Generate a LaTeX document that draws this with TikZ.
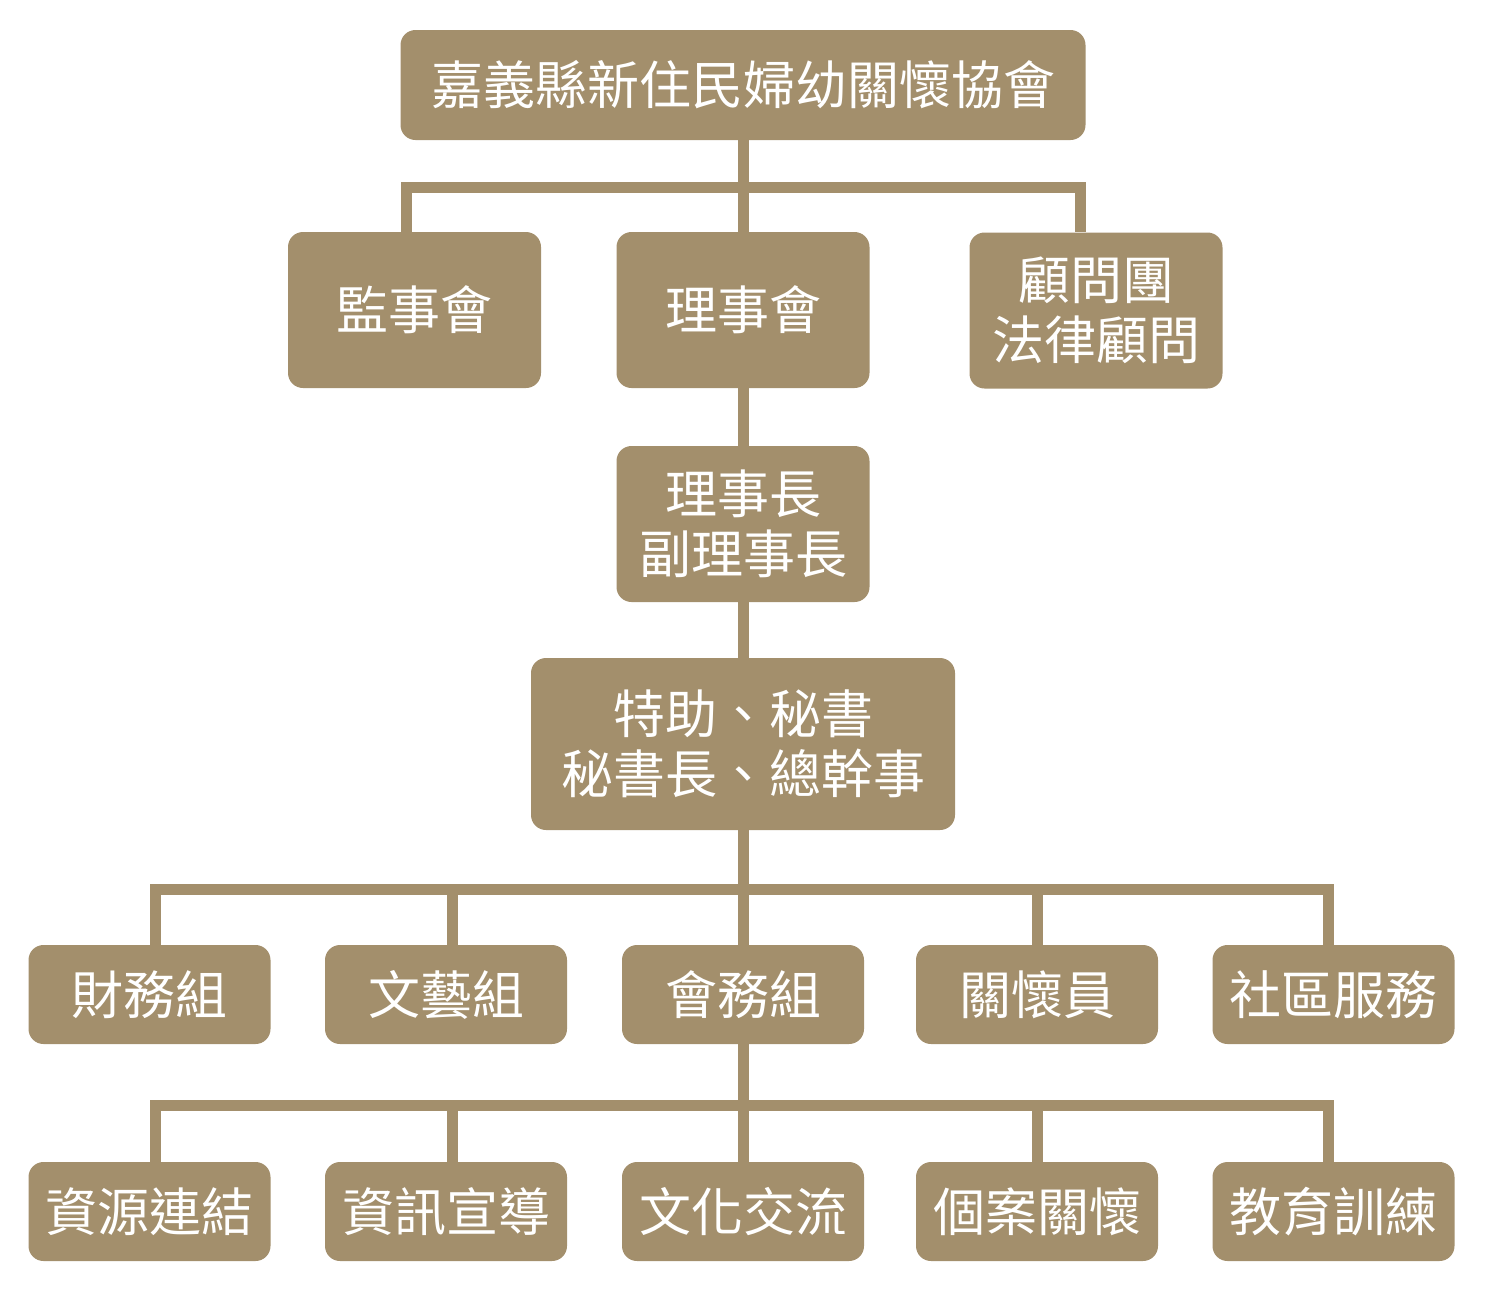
\documentclass[tikz,border=0pt]{standalone}
\usepackage{fontspec}
\setmainfont{Noto Sans CJK TC}
\usepackage{tikz}
\usetikzlibrary{calc,positioning}
\definecolor{khaki}{HTML}{A38F6C}
\tikzset{org box/.style={fill=khaki,text=white,rounded corners=7.5pt,inner sep=0pt,align=center,font=\fontsize{26}{30}\selectfont},
	wide box/.style={org box,minimum width=126.5pt,minimum height=78pt},
	unit box/.style={org box,minimum width=121pt,minimum height=49.5pt},
	org link/.style={draw=khaki,line width=5.5pt}}

\begin{document}
\begin{tikzpicture}[x=0.5pt,y=-0.5pt]
	
	\useasboundingbox (0,0) rectangle (1488,1292);
	
	\node[org box,minimum width=342.5pt,minimum height=55pt,font=\fontsize{26}{30}\selectfont] (assoc) at (743,85) {嘉義縣新住民婦幼關懷協會};
	
	\node[wide box] (super) at (414.5,310) {監事會};
	\node[wide box] (board) at (743,310) {理事會};
	\node[wide box] (advisor) at (1096,310.5) {顧問團\\法律顧問};
	
	\node[wide box] (chair) at (743,524) {理事長\\副理事長};
	\node[org box,minimum width=212pt,minimum height=86pt] (secr) at (743,744) {特助、秘書\\秘書長、總幹事};
	
	\foreach \n/\x/\t in {fin/149.5/財務組,arts/446/文藝組,affairs/743/會務組,care/1037/關懷員,comm/1333.5/社區服務}
		\node[unit box] (\n) at (\x,994.5) {\t};
	
	\foreach \n/\x/\t in {res/149.5/資源連結,info/446/資訊宣導,cult/743/文化交流,case/1037/個案關懷,edu/1333.5/教育訓練}
		\node[unit box] (\n) at (\x,1211.5) {\t};
	
	\coordinate (j1) at (406.5,187.5);
	\coordinate (j2) at (1080,187.5);
	
	\coordinate (k1) at (155.5,889.5);
	\coordinate (k2) at (452.5,889.5);
	\coordinate (k4) at (1037.5,889.5);
	\coordinate (k5) at (1328.5,889.5);
	
	\coordinate (m1) at (155.5,1105.5);
	\coordinate (m2) at (452.5,1105.5);
	\coordinate (m4) at (1037.5,1105.5);
	\coordinate (m5) at (1328.5,1105.5);
	
	\draw[org link] (assoc) -- (board);
	\draw[org link] (j1 |- super.north) -- (j1) -- (j2) -- (j2 |- advisor.north);
	\draw[org link] (board) -- (chair);
	\draw[org link] (chair) -- (secr);
	
	\draw[org link] (secr) -- (affairs);
	\draw[org link] (k1 |- fin.north) -- (k1) -- (k5) -- (k5 |- comm.north);
	\draw[org link] (k2) -- (k2 |- arts.north);
	\draw[org link] (k4) -- (k4 |- care.north);
	
	\draw[org link] (affairs) -- (cult);
	\draw[org link] (m1 |- res.north) -- (m1) -- (m5) -- (m5 |- edu.north);
	\draw[org link] (m2) -- (m2 |- info.north);
	\draw[org link] (m4) -- (m4 |- case.north);
\end{tikzpicture}
\end{document}
